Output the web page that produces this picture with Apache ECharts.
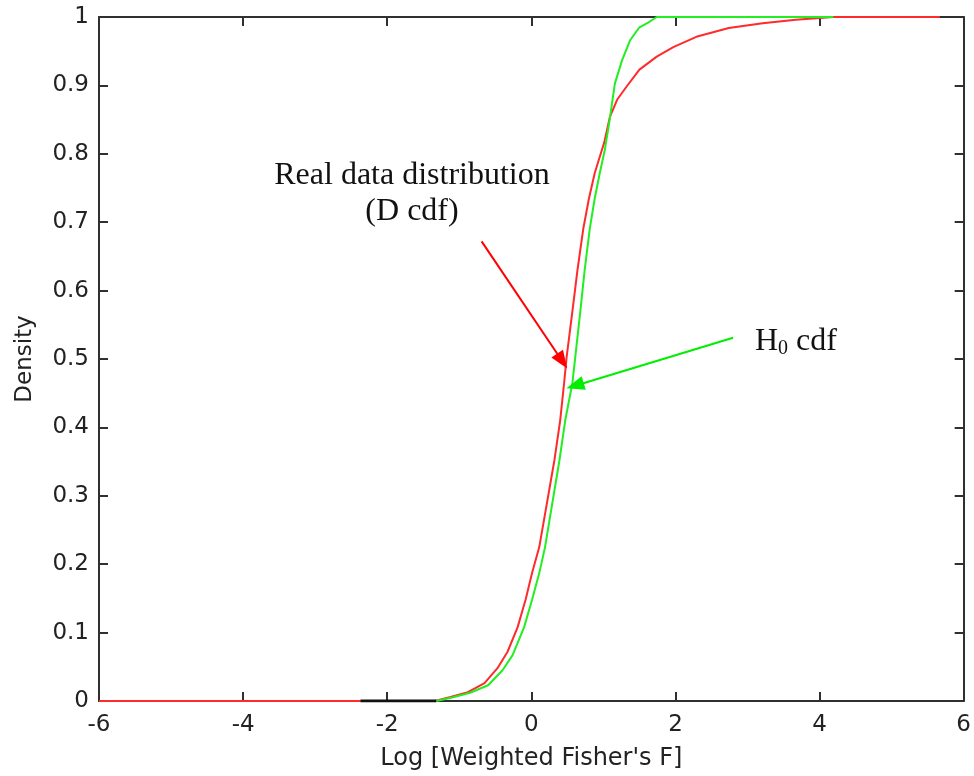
<!DOCTYPE html>
<html>
<head>
<meta charset="utf-8">
<script src="https://cdn.jsdelivr.net/npm/echarts@6/dist/echarts.min.js"></script>
<style>
html,body{margin:0;padding:0;background:#fff;}
#chart{width:974px;height:776px;}
</style>
</head>
<body>
<div id="chart"></div>
<script>
// Real data distribution (D cdf) - red
var redX = [-6, -1.34, -1.12, -0.88, -0.65, -0.47, -0.33, -0.19, -0.08, 0.01, 0.11, 0.32, 0.40, 0.455, 0.49, 0.57, 0.64, 0.72, 0.80, 0.88, 0.98, 1.01, 1.09, 1.19, 1.32, 1.50, 1.74, 1.97, 2.29, 2.74, 3.21, 3.67, 4.19, 5.67];
var redY = [0, 0, 0.006, 0.013, 0.026, 0.048, 0.072, 0.108, 0.148, 0.187, 0.225, 0.352, 0.41, 0.465, 0.503, 0.57, 0.63, 0.69, 0.735, 0.772, 0.806, 0.816, 0.854, 0.879, 0.898, 0.923, 0.942, 0.956, 0.971, 0.984, 0.991, 0.996, 1.0, 1.0];
// H0 cdf - green
var greenX = [-1.32, -1.1, -0.85, -0.6, -0.4, -0.26, -0.1, 0.01, 0.11, 0.19, 0.39, 0.47, 0.57, 0.61, 0.68, 0.74, 0.81, 0.88, 0.95, 1.02, 1.08, 1.16, 1.26, 1.37, 1.50, 1.64, 1.74, 4.19];
var greenY = [0, 0.005, 0.012, 0.023, 0.045, 0.067, 0.108, 0.148, 0.187, 0.225, 0.352, 0.41, 0.465, 0.503, 0.57, 0.63, 0.69, 0.735, 0.772, 0.806, 0.845, 0.903, 0.937, 0.966, 0.985, 0.993, 1.0, 1.0];
// short black segment on the baseline
var blackX = [-2.37, -1.32];
var blackY = [0, 0];
// annotation arrows: [startX, startY, endX, endY]
var redArrow = [-0.69, 0.672, 0.428, 0.497];
var greenArrow = [2.80, 0.531, 0.607, 0.461];

var xTicks = [-6, -4, -2, 0, 2, 4, 6];
var yTicks = [0, 0.1, 0.2, 0.3, 0.4, 0.5, 0.6, 0.7, 0.8, 0.9, 1];

function pairs(xs, ys) { return xs.map(function (x, i) { return [x, ys[i]]; }); }

var axisColor = '#303030';
var sans = 'DejaVu Sans, Verdana, sans-serif';
var labelFont = { color: '#222', fontFamily: sans, fontSize: 23 };

var chart = echarts.init(document.getElementById('chart'), null, { renderer: 'canvas' });
chart.setOption({
  animation: false,
  backgroundColor: '#fff',
  grid: { left: 99, right: 6, top: 17, bottom: 75, containLabel: false },
  xAxis: [{
    type: 'value', min: -6, max: 6, interval: 2, position: 'bottom',
    name: "Log [Weighted Fisher's F]", nameLocation: 'middle', nameGap: 46,
    nameTextStyle: { color: '#222', fontFamily: sans, fontSize: 24 },
    axisLine: { show: true, onZero: false, lineStyle: { color: axisColor, width: 2 } },
    axisTick: { show: true, inside: true, length: 9, lineStyle: { color: axisColor, width: 2 } },
    axisLabel: Object.assign({ margin: 13 }, labelFont),
    splitLine: { show: false }
  }, {
    type: 'value', min: -6, max: 6, interval: 2, position: 'top',
    axisLine: { show: true, onZero: false, lineStyle: { color: axisColor, width: 2 } },
    axisTick: { show: true, inside: true, length: 9, lineStyle: { color: axisColor, width: 2 } },
    axisLabel: { show: false }, splitLine: { show: false }
  }],
  yAxis: [{
    type: 'value', min: 0, max: 1, interval: 0.1, position: 'left',
    name: 'Density', nameLocation: 'middle', nameGap: 62, nameRotate: 90,
    nameTextStyle: { color: '#222', fontFamily: sans, fontSize: 23 },
    axisLine: { show: true, onZero: false, lineStyle: { color: axisColor, width: 2 } },
    axisTick: { show: true, inside: true, length: 9, lineStyle: { color: axisColor, width: 2 } },
    axisLabel: Object.assign({ margin: 10, formatter: function (v) { return String(+v.toFixed(1)); } }, labelFont),
    splitLine: { show: false }
  }, {
    type: 'value', min: 0, max: 1, interval: 0.1, position: 'right',
    axisLine: { show: true, onZero: false, lineStyle: { color: axisColor, width: 2 } },
    axisTick: { show: true, inside: true, length: 9, lineStyle: { color: axisColor, width: 2 } },
    axisLabel: { show: false }, splitLine: { show: false }
  }],
  series: [{
    name: 'D cdf', type: 'line', data: pairs(redX, redY), showSymbol: false, smooth: false,
    lineStyle: { color: '#ff2a2a', width: 2 }, z: 3,
    markLine: {
      silent: true, symbol: ['none', 'triangle'], symbolSize: [14, 18], label: { show: false },
      lineStyle: { color: '#ff0000', width: 2, type: 'solid' },
      data: [[{ coord: [redArrow[0], redArrow[1]] }, { coord: [redArrow[2], redArrow[3]] }]]
    }
  }, {
    name: 'H0 cdf', type: 'line', data: pairs(greenX, greenY), showSymbol: false, smooth: false,
    lineStyle: { color: '#22ee22', width: 2 }, z: 4,
    markLine: {
      silent: true, symbol: ['none', 'triangle'], symbolSize: [14, 18], label: { show: false },
      lineStyle: { color: '#00ee00', width: 2, type: 'solid' },
      data: [[{ coord: [greenArrow[0], greenArrow[1]] }, { coord: [greenArrow[2], greenArrow[3]] }]]
    }
  }, {
    name: 'base', type: 'line', data: pairs(blackX, blackY), showSymbol: false,
    lineStyle: { color: '#111', width: 3 }, z: 5
  }],
  graphic: [{
    type: 'text', x: 412, y: 158,
    style: {
      text: 'Real data distribution\n(D cdf)', fill: '#111', align: 'center', verticalAlign: 'top',
      font: '32px "Liberation Serif", "Times New Roman", serif', lineHeight: 36
    }
  }, {
    type: 'text', x: 755, y: 325,
    style: {
      text: '{h|H}{s|0}{h| cdf}', fill: '#111',
      rich: {
        h: { fontSize: 32, fontFamily: 'Liberation Serif, Times New Roman, serif', fill: '#111' },
        s: { fontSize: 20, fontFamily: 'Liberation Serif, Times New Roman, serif', fill: '#111', padding: [14, 0, 0, 0] }
      }
    }
  }]
});
</script>
</body>
</html>
